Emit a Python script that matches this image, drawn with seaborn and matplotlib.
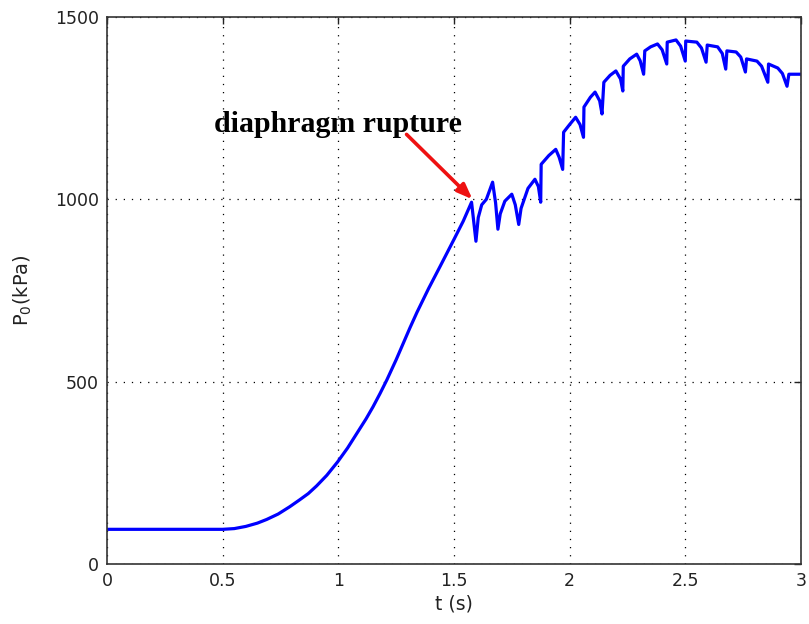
import matplotlib
matplotlib.use("Agg")
import matplotlib.pyplot as plt
import seaborn as sns
import pandas as pd

# time (s)
t = [0.0, 0.50, 0.55, 0.60, 0.65, 0.69, 0.74, 0.79, 0.833, 0.87, 0.906, 0.95, 0.997, 1.04, 1.08, 1.12,
     1.15, 1.18, 1.21, 1.25, 1.28, 1.31, 1.34, 1.39, 1.44, 1.50, 1.54, 1.576,
     1.595, 1.605, 1.62, 1.64, 1.667, 1.68, 1.69, 1.70, 1.72, 1.75, 1.765, 1.78, 1.79, 1.82, 1.85, 1.865, 1.875,
     1.877, 1.91, 1.94, 1.955, 1.97, 1.974, 2.00, 2.026, 2.045, 2.06, 2.062, 2.09, 2.11, 2.13, 2.14,
     2.148, 2.175, 2.20, 2.22, 2.23, 2.232, 2.26, 2.29, 2.305, 2.32, 2.325, 2.35, 2.38, 2.40, 2.42,
     2.422, 2.46, 2.48, 2.50, 2.502, 2.55, 2.57, 2.59, 2.595, 2.64, 2.66, 2.675, 2.68, 2.72, 2.74, 2.76,
     2.765, 2.81, 2.83, 2.857, 2.86, 2.90, 2.92, 2.94, 2.948, 3.0]
# pressure P0 (kPa)
p = [95, 95, 97, 103, 112, 122, 137, 157, 176, 193, 214, 243, 280, 318, 358, 398,
     431, 467, 505, 560, 604, 648, 690, 755, 816, 890, 940, 992,
     885, 950, 985, 1000, 1047, 990, 918, 960, 995, 1014, 985, 931, 975, 1030, 1055, 1035, 992,
     1096, 1120, 1137, 1115, 1082, 1184, 1205, 1225, 1205, 1170, 1253, 1280, 1294, 1270, 1234,
     1321, 1340, 1352, 1330, 1297, 1365, 1385, 1398, 1380, 1343, 1407, 1418, 1426, 1410, 1371,
     1431, 1437, 1420, 1379, 1434, 1431, 1415, 1376, 1423, 1418, 1400, 1357, 1407, 1404, 1390, 1349,
     1385, 1379, 1365, 1321, 1371, 1360, 1345, 1310, 1343, 1343]

xticks = [0, 0.5, 1, 1.5, 2, 2.5, 3]
xticklabels = ["0", "0.5", "1", "1.5", "2", "2.5", "3"]
yticks = [0, 500, 1000, 1500]
yticklabels = ["0", "500", "1000", "1500"]

annot_text = "diaphragm rupture"
annot_xy = (1.58, 1000)
annot_text_xy = (0.997, 1205)
arrow_tail = (1.295, 1178)

sns.set_style("white")
plt.rcParams['font.family'] = ['DejaVu Sans']

df = pd.DataFrame({"t": t, "p": p})

fig = plt.figure(figsize=(8.09, 6.24), dpi=100)
ax = fig.add_axes([0.1323, 0.0962, 0.8577, 0.8766])

sns.lineplot(data=df, x="t", y="p", ax=ax, color="#0000ff", linewidth=2.3,
             estimator=None, sort=False)

ax.set_xlim(0, 3)
ax.set_ylim(0, 1500)
ax.set_xticks(xticks)
ax.set_xticklabels(xticklabels)
ax.set_yticks(yticks)
ax.set_yticklabels(yticklabels)
ax.grid(True, linestyle=(0, (1, 5.5)), color="black", linewidth=0.9)
ax.tick_params(direction="in", length=5, width=1, top=True, right=True,
               labelsize=12.5, colors="#222222", pad=6)
for s in ax.spines.values():
    s.set_color("#333333")
    s.set_linewidth(1.2)
    s.set_visible(True)

ax.set_xlabel("t (s)", fontsize=13.5, color="#222222", labelpad=3)
ax.set_ylabel(r"P$_0$(kPa)", fontsize=14, color="#222222", labelpad=4)
ax.yaxis.set_label_coords(-0.105, 0.5)

ax.text(annot_text_xy[0], annot_text_xy[1], annot_text, ha="center", va="center",
        fontsize=21.5, fontweight="bold", family="Liberation Serif", color="black")
ax.annotate("", xy=annot_xy, xytext=arrow_tail,
            arrowprops=dict(arrowstyle="-|>,head_length=0.9,head_width=0.35",
                            color="#ee1111", lw=2.6, shrinkA=0, shrinkB=0))

fig.savefig("out.png", dpi=100)
